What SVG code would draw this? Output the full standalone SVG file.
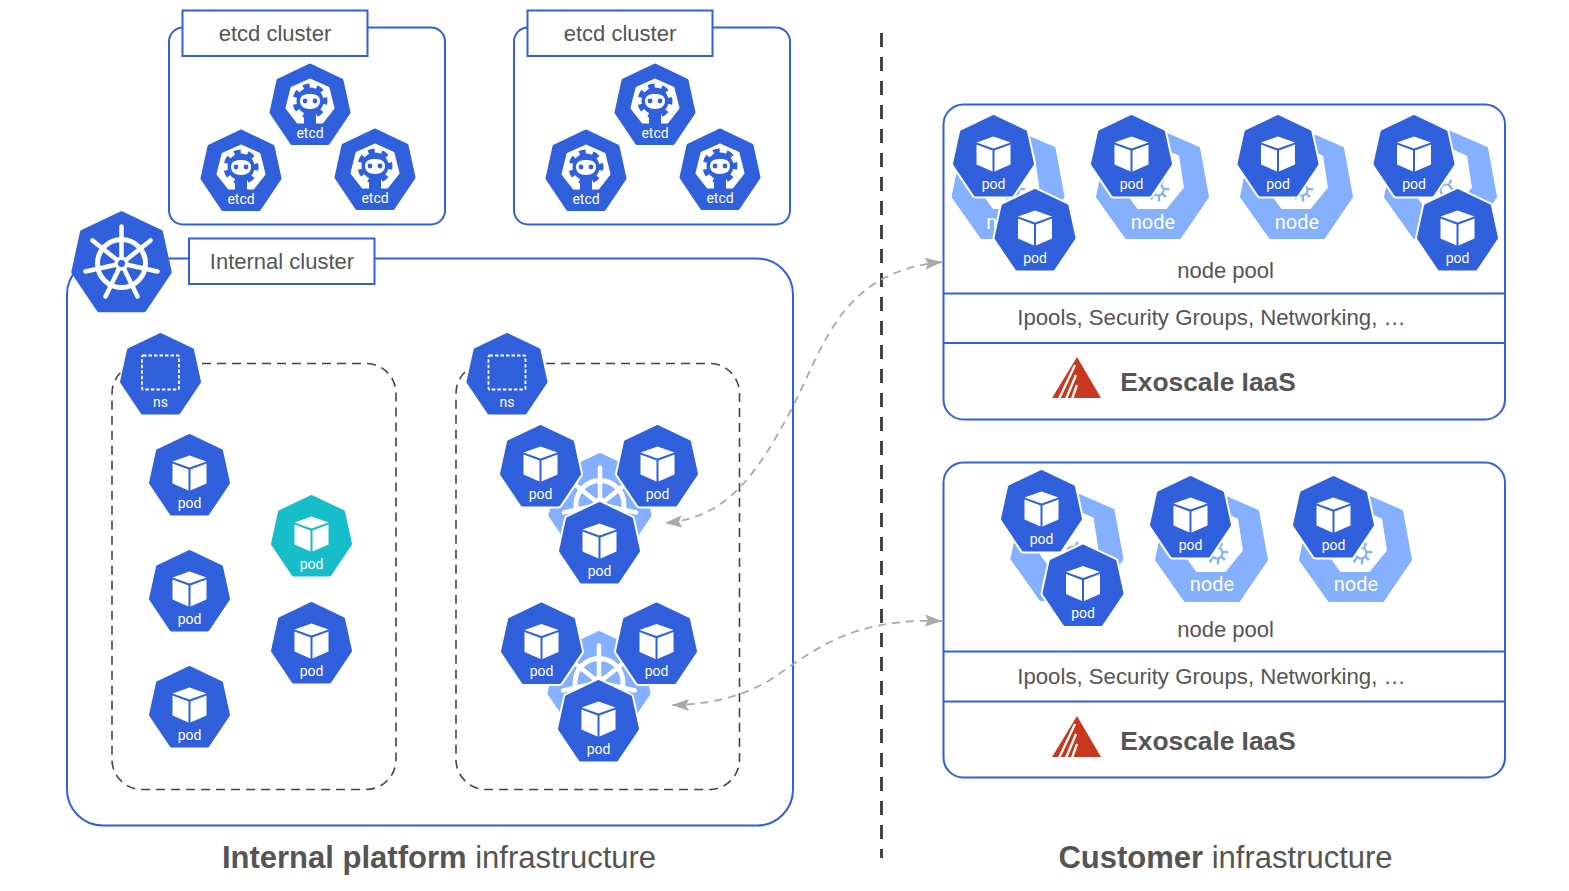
<svg xmlns="http://www.w3.org/2000/svg" width="1569" height="891" viewBox="0 0 1569 891">
<style>
text{font-family:"Liberation Sans",Arial,sans-serif;fill:#555;font-size:22px;text-anchor:middle}
.box{fill:none;stroke:#3060e0;stroke-width:2}
.lab{fill:#fff;stroke:#3060e0;stroke-width:2}
.dash{fill:none;stroke:#444;stroke-width:1.6;stroke-dasharray:9 6}
.h{fill:#3060dc;stroke:#3060dc;stroke-width:4;stroke-linejoin:round}
.halo{fill:#fff;stroke:#fff;stroke-width:8;stroke-linejoin:round}
.t{font-family:Roboto,"Liberation Sans",sans-serif;font-size:14px;fill:#fff}
.n{font-family:Roboto,"Liberation Sans",sans-serif;font-size:20px;fill:#fff}
.b{font-weight:bold}
.cap{font-size:31px}
.ex{font-size:26.300px}
.in{font-size:22.200px}
.conn{fill:none;stroke:#aaa;stroke-width:1.8;stroke-dasharray:8 6;marker-start:url(#ah);marker-end:url(#ah)}
</style>
<defs>
<marker id="ah" markerUnits="userSpaceOnUse" markerWidth="18" markerHeight="14" refX="17" refY="7" orient="auto-start-reverse"><path d="M0 1L17 7L0 13L3 7Z" fill="#aaa"/></marker>
<polygon id="hept" points="0,-38.500 31.500,-23.500 38.500,8.500 18,39 -18,39 -38.500,8.500 -31.500,-23.500"/>
<g id="cube" fill="#fff"><path d="M0-19L17-13L0-7L-17-13Z"/><path d="M-17-11L-1-5V16L-17 9Z"/><path d="M17-11L1-5V16L17 9Z"/></g>
<g id="pod"><use href="#hept" class="h"/><use href="#cube"/></g>
<g id="podh"><use href="#hept" class="halo"/><use href="#pod"/></g>
<g id="wheel" stroke="#fff" fill="none" stroke-linecap="round">
<circle r="24" stroke-width="5"/>
<path stroke-width="4.500" d="M0 0V-37M0 0L29 -23M0 0L36 8M0 0L16 33M0 0L-16 33M0 0L-36 8M0 0L-29 -23"/>
<circle r="7" fill="#fff" stroke="none"/>
</g>
<g id="nodebg">
<path d="M0-55L46-35L55 14L27 55H-27L-56 14L-46-35ZM0-40L-27-28L-32 5L-16 27H14L32 5L27-28Z" fill="#84b0ff" fill-rule="evenodd" stroke="#84b0ff" stroke-width="2" stroke-linejoin="round"/>
<g transform="translate(5,7)"><circle r="5.500" fill="none" stroke="#84b0ff" stroke-width="2.200"/><path fill="none" stroke="#84b0ff" stroke-width="2" d="M3-5L4.500-9M6-1L10-1M4.500 4L7 6M1 6L1 10M-4 4.500L-6.500 8"/><g fill="#84b0ff"><circle cx="4.500" cy="-9" r="1.500"/><circle cx="10" cy="-1" r="1.500"/><circle cx="7" cy="6" r="1.500"/><circle cx="1" cy="10" r="1.500"/><circle cx="-6.500" cy="8" r="1.500"/></g></g>
</g>
<g id="etcdicon">
<path d="M0-24L18-16L23 4L12 18H-12L-23 4L-18-16Z" fill="#fff" stroke="#fff" stroke-width="3" stroke-linejoin="round"/>
<path d="M-6 8H6V21H-6Z" fill="#3060dc"/>
<circle cy="-3" r="13.500" fill="#3060dc"/>
<circle cy="-3" r="15" fill="none" stroke="#3060dc" stroke-width="5" stroke-dasharray="6.500 6.960" transform="rotate(-116 0 -3)"/>
<path d="M-10-3C-10-9-5-10 0-10S10-9 10-3C10 2 6 5 0 5S-10 2-10-3Z" fill="#fff"/>
<circle cx="-5" cy="-3" r="2.400" fill="#3060dc"/><circle cx="5" cy="-3" r="2.400" fill="#3060dc"/>
</g>
<g id="etcd"><use href="#hept" class="h"/><use href="#etcdicon"/></g>
<g id="ns"><use href="#hept" class="h"/><rect x="-18.500" y="-18" width="37" height="34" rx="1" fill="none" stroke="#fff" stroke-width="1.800" stroke-dasharray="3.500 2"/></g>
<g id="logo"><path d="M1077 357L1101 398H1052Z" fill="#c8381f"/><path d="M1075 365L1059 399M1076 375L1066 399M1077 385L1072 399" stroke="#fff" stroke-width="2.300" fill="none"/></g>
</defs>
<rect width="1569" height="891" fill="#fff"/>

<g id="etcd-cluster-1">
<rect class="box" x="169" y="27.500" width="276" height="197" rx="14"/>
<rect class="lab" x="182.500" y="10.500" width="185" height="45.500"/>
<text x="275" y="41">etcd cluster</text>
</g>
<g id="etcd-cluster-2">
<rect class="box" x="514" y="27.500" width="276" height="197" rx="14"/>
<rect class="lab" x="527.500" y="10.500" width="185" height="45.500"/>
<text x="620" y="41">etcd cluster</text>
</g>
<g id="etcd-a1" transform="translate(310,104)"><use href="#etcd"/><text class="t" y="34">etcd</text></g>
<g id="etcd-a2" transform="translate(241,170)"><use href="#etcd"/><text class="t" y="34">etcd</text></g>
<g id="etcd-a3" transform="translate(375,169)"><use href="#etcd"/><text class="t" y="34">etcd</text></g>
<g id="etcd-b1" transform="translate(655,104)"><use href="#etcd"/><text class="t" y="34">etcd</text></g>
<g id="etcd-b2" transform="translate(586,170)"><use href="#etcd"/><text class="t" y="34">etcd</text></g>
<g id="etcd-b3" transform="translate(720,169)"><use href="#etcd"/><text class="t" y="34">etcd</text></g>

<g id="internal-cluster">
<rect class="box" x="67" y="258.500" width="726" height="567" rx="36"/>
<rect class="lab" x="189" y="238.500" width="185.500" height="45.500"/>
<text x="282" y="269">Internal cluster</text>
</g>
<g id="k8s-main" transform="translate(121.500,261.500)">
<use href="#hept" class="h" transform="scale(1.240)"/>
<use href="#wheel" transform="translate(0,2)"/>
<circle cy="2" r="3.500" fill="#3060dc"/>
</g>

<rect id="ns-box-1" class="dash" x="112" y="363.500" width="284" height="426" rx="30"/>
<rect id="ns-box-2" class="dash" x="456" y="363.500" width="283.500" height="426" rx="30"/>

<g id="ns-1" transform="translate(160.500,373.500)"><use href="#ns"/><text class="t" y="33">ns</text></g>
<g id="ns-2" transform="translate(507,373.500)"><use href="#ns"/><text class="t" y="33">ns</text></g>

<g id="pod-l1" transform="translate(189.500,474.500)"><use href="#pod"/><text class="t" y="33">pod</text></g>
<g id="pod-l2" transform="translate(189.500,590.500)"><use href="#pod"/><text class="t" y="33">pod</text></g>
<g id="pod-l3" transform="translate(189.500,706.500)"><use href="#pod"/><text class="t" y="33">pod</text></g>
<g id="pod-teal" transform="translate(311.500,535.500)"><polygon points="0,-38.500 31.500,-23.500 38.500,8.500 18,39 -18,39 -38.500,8.500 -31.500,-23.500" fill="#17bdc9" stroke="#17bdc9" stroke-width="4" stroke-linejoin="round"/><use href="#cube"/><text class="t" y="33">pod</text></g>
<g id="pod-l5" transform="translate(311.500,642.500)"><use href="#pod"/><text class="t" y="33">pod</text></g>

<g id="k8s-a" transform="translate(600,504.500)">
<use href="#hept" style="fill:#84b0ff;stroke:#84b0ff;stroke-width:4;stroke-linejoin:round" transform="scale(1.270)"/>
<use href="#wheel"/>
<circle r="3.500" fill="#84b0ff"/>
</g>
<g id="pod-a1" transform="translate(540.500,465.500)"><use href="#podh"/><text class="t" y="33">pod</text></g>
<g id="pod-a2" transform="translate(657.500,465.500)"><use href="#podh"/><text class="t" y="33">pod</text></g>
<g id="pod-a3" transform="translate(599.500,542.500)"><use href="#podh"/><text class="t" y="33">pod</text></g>

<g id="k8s-b" transform="translate(599,682.500)">
<use href="#hept" style="fill:#84b0ff;stroke:#84b0ff;stroke-width:4;stroke-linejoin:round" transform="scale(1.270)"/>
<use href="#wheel"/>
<circle r="3.500" fill="#84b0ff"/>
</g>
<g id="pod-b1" transform="translate(541.500,643)"><use href="#podh"/><text class="t" y="33">pod</text></g>
<g id="pod-b2" transform="translate(656.500,643)"><use href="#podh"/><text class="t" y="33">pod</text></g>
<g id="pod-b3" transform="translate(598.500,720.500)"><use href="#podh"/><text class="t" y="33">pod</text></g>

<path id="divider" d="M881.500 33V858" fill="none" stroke="#444" stroke-width="3" stroke-dasharray="14 10"/>

<g id="pool-1">
<rect class="box" x="943.500" y="104.500" width="561.500" height="315" rx="20"/>
<path class="box" d="M943 293.500H1506M943 343H1506"/>
<text x="1225.500" y="278">node pool</text>
<text class="in" x="1211.500" y="325">Ipools, Security Groups, Networking, …</text>
<use id="exo-logo-1" href="#logo"/>
<text class="b ex" x="1208" y="391">Exoscale IaaS</text>
</g>
<g id="pool-2">
<rect class="box" x="943.500" y="462.500" width="561.500" height="315" rx="20"/>
<path class="box" d="M943 651.500H1506M943 701.500H1506"/>
<text x="1225.500" y="636.500">node pool</text>
<text class="in" x="1211.500" y="684">Ipools, Security Groups, Networking, …</text>
<use id="exo-logo-2" href="#logo" y="359"/>
<text class="b ex" x="1208" y="750">Exoscale IaaS</text>
</g>

<g id="node-a1" transform="translate(1008.500,183)"><use href="#nodebg"/><text class="n" y="46">node</text></g>
<g id="node-a2" transform="translate(1153,183)"><use href="#nodebg"/><text class="n" y="46">node</text></g>
<g id="node-a3" transform="translate(1297,183)"><use href="#nodebg"/><text class="n" y="46">node</text></g>
<g id="node-a4" transform="translate(1441,183)"><use href="#nodebg"/><text class="n" y="46">node</text></g>
<g id="pod-c1" transform="translate(993.500,155.500)"><use href="#podh"/><text class="t" y="33">pod</text></g>
<g id="pod-c2" transform="translate(1035,229.500)"><use href="#podh"/><text class="t" y="33">pod</text></g>
<g id="pod-c3" transform="translate(1131.500,155.500)"><use href="#podh"/><text class="t" y="33">pod</text></g>
<g id="pod-c4" transform="translate(1278,155.500)"><use href="#podh"/><text class="t" y="33">pod</text></g>
<g id="pod-c5" transform="translate(1414,155.500)"><use href="#podh"/><text class="t" y="33">pod</text></g>
<g id="pod-c6" transform="translate(1457.500,229.500)"><use href="#podh"/><text class="t" y="33">pod</text></g>

<g id="node-b1" transform="translate(1067.500,545)"><use href="#nodebg"/><text class="n" y="45">node</text></g>
<g id="node-b2" transform="translate(1212,546)"><use href="#nodebg"/><text class="n" y="45">node</text></g>
<g id="node-b3" transform="translate(1356,546)"><use href="#nodebg"/><text class="n" y="45">node</text></g>
<g id="pod-d1" transform="translate(1041.500,510.500)"><use href="#podh"/><text class="t" y="33">pod</text></g>
<g id="pod-d2" transform="translate(1083,585)"><use href="#podh"/><text class="t" y="33">pod</text></g>
<g id="pod-d3" transform="translate(1190.500,516.500)"><use href="#podh"/><text class="t" y="33">pod</text></g>
<g id="pod-d4" transform="translate(1333.500,516.500)"><use href="#podh"/><text class="t" y="33">pod</text></g>

<g id="connectors">
<path class="conn" d="M942 262C840 272 825 345 790 412C755 478 725 518 665 523"/>
<path class="conn" d="M942 621C850 618 815 650 770 680C740 698 705 705 672 705"/>
</g>

<g id="captions">
<text class="cap" x="439" y="868"><tspan class="b">Internal platform</tspan> infrastructure</text>
<text class="cap" x="1225.500" y="868"><tspan class="b">Customer</tspan> infrastructure</text>
</g>
</svg>
